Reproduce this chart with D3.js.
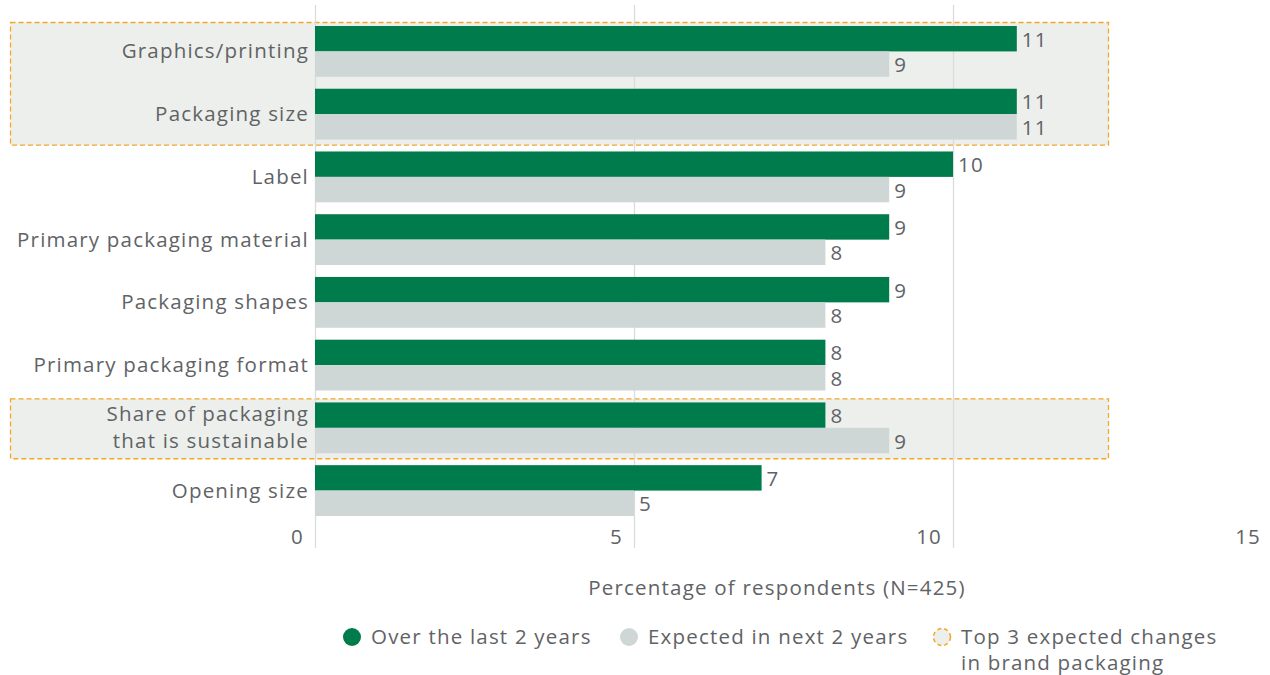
<!DOCTYPE html>
<html>
<head>
<meta charset="utf-8">
<script src="https://cdn.jsdelivr.net/npm/d3@7/dist/d3.min.js"></script>
<style>
  html, body { margin: 0; padding: 0; background: #fff; }
  svg { display: block; font-family: "Open Sans", "Noto Sans", sans-serif; letter-spacing: 1.2px; }
</style>
</head>
<body>
<svg id="chart" width="1270" height="675"></svg>
<script>
// Brand packaging changes: past two years vs. expected next two years
const categories = [
  "Graphics/printing",
  "Packaging size",
  "Label",
  "Primary packaging material",
  "Packaging shapes",
  "Primary packaging format",
  "Share of packaging\nthat is sustainable",
  "Opening size"
];
const lastTwoYears = [11, 11, 10, 9, 9, 8, 8, 7];
const nextTwoYears = [9, 11, 9, 8, 8, 8, 9, 5];
const topThreeGroups = [["Graphics/printing", "Packaging size"], ["Share of packaging\nthat is sustainable"]];
const xTicks = [0, 5, 10, 15];
const axisTitle = "Percentage of respondents (N=425)";
const legendLabels = ["Over the last 2 years", "Expected in next 2 years", "Top 3 expected changes\nin brand packaging"];

const GREEN = "#007b4b", GREY = "#cfd7d6", HIGHLIGHT = "#edefec", ORANGE = "#f5a623", TEXT = "#5f6366";
const FS = 20.5;

const svg = d3.select("#chart");
const x = d3.scaleLinear().domain([0, 15]).range([315, 1272]);
const y = d3.scaleBand().domain(categories).range([26, 516]).paddingInner(0.19).paddingOuter(0);
const sub = d3.scaleBand().domain(["last", "next"]).range([0, y.bandwidth()]);

// highlight boxes behind the top-3 expected changes
topThreeGroups.forEach(g => {
  const y0 = y(g[0]) - 4, y1 = y(g[g.length - 1]) + y.bandwidth() + 5;
  svg.append("rect")
    .attr("x", 10.5).attr("y", y0 + 0.5)
    .attr("width", 1098).attr("height", y1 - y0)
    .attr("fill", HIGHLIGHT).attr("stroke", ORANGE)
    .attr("stroke-width", 1.3).attr("stroke-dasharray", "5,3");
});

// gridlines
svg.append("g").selectAll("line").data(xTicks).join("line")
  .attr("x1", d => x(d) + 0.5).attr("x2", d => x(d) + 0.5)
  .attr("y1", 5).attr("y2", 548)
  .attr("stroke", "#d9dcdb").attr("stroke-width", 1.3);

// tick labels
svg.append("g").selectAll("text").data(xTicks).join("text")
  .attr("x", d => x(d) - 11).attr("y", 544)
  .attr("text-anchor", "end")
  .attr("fill", TEXT).attr("font-size", FS)
  .text(d => d);

// bars
const rows = svg.append("g").selectAll("g").data(categories).join("g")
  .attr("transform", d => `translate(0,${y(d)})`);

rows.append("rect")
  .attr("x", x(0)).attr("y", sub("last"))
  .attr("width", (d, i) => x(lastTwoYears[i]) - x(0))
  .attr("height", sub.bandwidth())
  .attr("fill", GREEN);

rows.append("rect")
  .attr("x", x(0)).attr("y", sub("next"))
  .attr("width", (d, i) => x(nextTwoYears[i]) - x(0))
  .attr("height", sub.bandwidth())
  .attr("fill", GREY);

// value labels
rows.append("text")
  .attr("x", (d, i) => x(lastTwoYears[i]) + 5)
  .attr("y", sub("last") + sub.bandwidth() / 2 + 8)
  .attr("fill", TEXT).attr("font-size", FS)
  .text((d, i) => lastTwoYears[i]);

rows.append("text")
  .attr("x", (d, i) => x(nextTwoYears[i]) + 5)
  .attr("y", sub("next") + sub.bandwidth() / 2 + 8)
  .attr("fill", TEXT).attr("font-size", FS)
  .text((d, i) => nextTwoYears[i]);

// category labels
rows.append("text")
  .attr("text-anchor", "end")
  .attr("fill", TEXT).attr("font-size", FS)
  .each(function(d) {
    const lines = d.split("\n");
    const t = d3.select(this);
    const mid = y.bandwidth() / 2;
    lines.forEach((ln, k) => {
      t.append("tspan")
        .attr("x", 309)
        .attr("y", mid + 7 + (k - (lines.length - 1) / 2) * 27)
        .text(ln);
    });
  });

// axis title
svg.append("text")
  .attr("x", 777).attr("y", 595)
  .attr("text-anchor", "middle")
  .attr("fill", TEXT).attr("font-size", FS)
  .text(axisTitle);

// legend
const legend = svg.append("g");
const legendItems = [
  { cx: 352, fill: GREEN, stroke: "none", label: legendLabels[0] },
  { cx: 629, fill: GREY, stroke: "none", label: legendLabels[1] },
  { cx: 942, fill: HIGHLIGHT, stroke: ORANGE, label: legendLabels[2] }
];
legendItems.forEach(it => {
  legend.append("circle")
    .attr("cx", it.cx).attr("cy", 637).attr("r", it.stroke === "none" ? 9 : 8.5)
    .attr("fill", it.fill)
    .attr("stroke", it.stroke)
    .attr("stroke-width", 1.5)
    .attr("stroke-dasharray", it.stroke === "none" ? null : "4,3");
  const t = legend.append("text").attr("fill", TEXT).attr("font-size", FS);
  it.label.split("\n").forEach((ln, k) => {
    t.append("tspan").attr("x", it.cx + 19).attr("y", 644 + k * 26).text(ln);
  });
});
</script>
</body>
</html>
